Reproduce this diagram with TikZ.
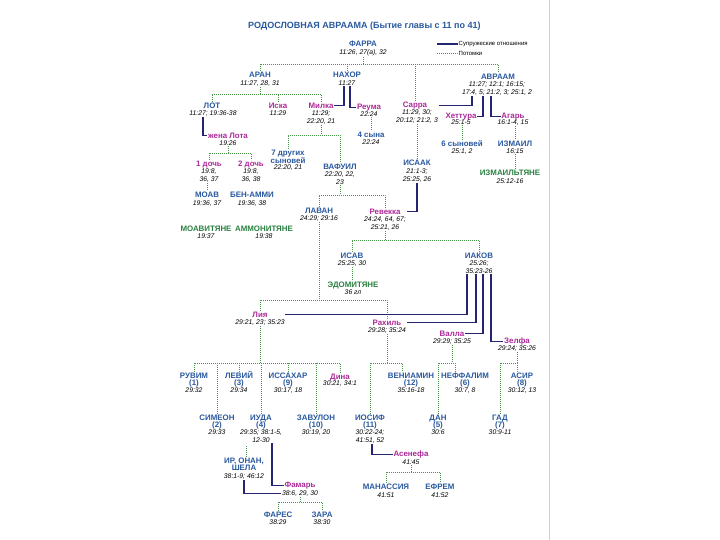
\documentclass[tikz,border=0pt]{standalone}
\usepackage{fontspec}
\setmainfont{Liberation Sans}
\usepackage{xcolor}
\usepackage{tikz}
\definecolor{nameblue}{RGB}{40,88,158}
\definecolor{wifepink}{RGB}{172,40,152}
\definecolor{folkgreen}{RGB}{40,128,64}
\definecolor{linegreen}{RGB}{70,150,70}
\definecolor{wednavy}{RGB}{36,36,112}
\tikzset{
  man/.style     = {font=\fontsize{7.9}{7.5}\selectfont\bfseries, text=nameblue, anchor=north, align=center, inner sep=0.6pt},
  wife/.style    = {man, text=wifepink},
  folk/.style    = {man, text=folkgreen},
  verse/.style   = {font=\fontsize{6.8}{8}\selectfont\itshape, anchor=north, align=center, inner sep=0.6pt},
  desc/.style    = {draw=linegreen, line width=0.8pt, dash pattern=on 0.8pt off 1.2pt},
  wed/.style     = {draw=wednavy, line width=1.2pt},
  heading/.style = {font=\fontsize{9}{10}\selectfont\bfseries, text=nameblue, anchor=west, inner sep=0pt},
  legend/.style  = {font=\fontsize{6}{6}\selectfont, anchor=west, inner sep=0.5pt},
}

\begin{document}
\begin{tikzpicture}[x=1pt,y=-1pt]
  \useasboundingbox (0,0) rectangle (720,540);
  \draw[black!18, line width=0.8pt] (549,0) -- (549,540);

  % title and legend
  \node[heading] (title) at (248,26) {РОДОСЛОВНАЯ АВРААМА (Бытие главы с 11 по 41)};
  \coordinate (lg1) at (437,44);
  \coordinate (lg2) at (437,53);
  \node[legend] (lgwed) at (458,44) {Супружеские отношения};
  \node[legend] (lgdesc) at (458,53) {Потомки};
  \draw[wed] (lg1) -- (lgwed.west);
  \draw[desc] (lg2) -- (lgdesc.west);

  % ---------- Terah and his children ----------
  \node[man] (terah) at (363,40) {ФАРРА};
  \node[verse] (terah-r) at (363,49) {11:26, 27(а), 32};
  \node[man] (aran) at (260,71) {АРАН};
  \node[verse] (aran-r) at (260,80) {11:27, 28, 31};
  \node[man] (nahor) at (347,71) {НАХОР};
  \node[verse] (nahor-r) at (347,80) {11:27};
  \node[man] (abram) at (498,73) {АВРААМ};
  \node[verse] (abram-r) at (497,81) {11:27; 12:1; 16:15;\\17:4, 5; 21:2, 3; 25:1, 2};

  \node[man] (lot) at (212,102) {ЛОТ};
  \node[verse] (lot-r) at (213,110) {11:27; 19:36-38};
  \node[wife] (iscah) at (278,102) {Иска};
  \node[verse] (iscah-r) at (278,110) {11:29};
  \node[wife] (milcah) at (321,102) {Милка};
  \node[verse] (milcah-r) at (321,110) {11:29;\\22:20, 21};
  \node[wife] (reumah) at (369,103) {Реума};
  \node[verse] (reumah-r) at (369,111) {22:24};
  \node[wife] (sarah) at (415,101) {Сарра};
  \node[verse] (sarah-r) at (417,109) {11:29, 30;\\20:12; 21:2, 3};
  \node[wife] (keturah) at (461,112) {Хеттура};
  \node[verse] (keturah-r) at (461,119) {25:1-5};
  \node[wife] (hagar) at (513,112) {Агарь};
  \node[verse] (hagar-r) at (513,119) {16:1-4, 15};

  % ---------- Lot ----------
  \node[wife] (lotwife) at (228,132) {жена Лота};
  \node[verse] (lotwife-r) at (228,140) {19:26};
  \node[wife] (d1) at (209,160) {1 дочь};
  \node[verse] (d1-r) at (209,168) {19:8,\\36, 37};
  \node[wife] (d2) at (251,160) {2 дочь};
  \node[verse] (d2-r) at (251,168) {19:8,\\36, 38};
  \node[man] (moab) at (207,191) {МОАВ};
  \node[verse] (moab-r) at (207,200) {19:36, 37};
  \node[man] (benammi) at (252,191) {БЕН-АММИ};
  \node[verse] (benammi-r) at (252,200) {19:36, 38};
  \node[folk] (moabites) at (206,225) {МОАВИТЯНЕ};
  \node[verse] (moabites-r) at (206,233) {19:37};
  \node[folk] (ammonites) at (264,225) {АММОНИТЯНЕ};
  \node[verse] (ammonites-r) at (264,233) {19:38};

  % ---------- Nahor ----------
  \node[man] (seven) at (288,149) {7 других\\сыновей};
  \node[verse] (seven-r) at (288,164) {22:20, 21};
  \node[man] (bethuel) at (340,163) {ВАФУИЛ};
  \node[verse] (bethuel-r) at (340,171) {22:20, 22,\\23};
  \node[man] (sons4) at (371,131) {4 сына};
  \node[verse] (sons4-r) at (371,139) {22:24};

  % ---------- Abraham ----------
  \node[man] (sons6) at (462,140) {6 сыновей};
  \node[verse] (sons6-r) at (462,148) {25:1, 2};
  \node[man] (ishmael) at (515,140) {ИЗМАИЛ};
  \node[verse] (ishmael-r) at (515,148) {16:15};
  \node[folk] (ishmaelites) at (510,169) {ИЗМАИЛЬТЯНЕ};
  \node[verse] (ishmaelites-r) at (510,178) {25:12-16};
  \node[man] (isaac) at (417,159) {ИСААК};
  \node[verse] (isaac-r) at (417,168) {21:1-3;\\25:25, 26};

  \node[man] (laban) at (319,207) {ЛАВАН};
  \node[verse] (laban-r) at (319,215) {24:29; 29:16};
  \node[wife] (rebekah) at (385,208) {Ревекка};
  \node[verse] (rebekah-r) at (385,216) {24:24, 64, 67;\\25:21, 26};
  \node[man] (esau) at (352,252) {ИСАВ};
  \node[verse] (esau-r) at (352,260) {25:25, 30};
  \node[folk] (edomites) at (353,281) {ЭДОМИТЯНЕ};
  \node[verse] (edomites-r) at (353,289) {36 гл};
  \node[man] (jacob) at (479,252) {ИАКОВ};
  \node[verse] (jacob-r) at (479,260) {25:26;\\35:23-26};

  % ---------- Jacob's wives and sons ----------
  \node[wife] (leah) at (260,311) {Лия};
  \node[verse] (leah-r) at (260,319) {29:21, 23; 35:23};
  \node[wife] (rachel) at (387,319) {Рахиль};
  \node[verse] (rachel-r) at (387,327) {29:28; 35:24};
  \node[wife] (bilhah) at (452,330) {Валла};
  \node[verse] (bilhah-r) at (452,338) {29:29; 35:25};
  \node[wife] (zilpah) at (517,337) {Зелфа};
  \node[verse] (zilpah-r) at (517,345) {29:24; 35:26};

  \foreach \id/\nm/\n/\rf/\x/\y in {%
    reuben/РУВИМ/1/29:32/194/372,
    levi/ЛЕВИЙ/3/29:34/239/372,
    issachar/ИССАХАР/9/{30:17, 18}/288/372,
    benjamin/ВЕНИАМИН/12/35:16-18/411/372,
    naphtali/НЕФФАЛИМ/6/{30:7, 8}/465/372,
    asher/АСИР/8/{30:12, 13}/522/372,
    simeon/СИМЕОН/2/29:33/217/414,
    judah/ИУДА/4/{29:35; 38:1-5,\\12-30}/261/414,
    zebulun/ЗАВУЛОН/10/{30:19, 20}/316/414,
    joseph/ИОСИФ/11/{30:22-24;\\41:51, 52}/370/414,
    dan/ДАН/5/30:6/438/414,
    gad/ГАД/7/30:9-11/500/414}
  {
    \node[man] (\id) at (\x,\y) {\smash{\nm}\vphantom{Н}\\(\n)};
    \node[verse] (\id-r) at (\x,\y+15) {\rf};
  }
  \node[wife] (dinah) at (340,373) {Дина};
  \node[verse] (dinah-r) at (340,380) {30:21, 34:1};

  % ---------- Judah and Joseph ----------
  \node[man] (er) at (244,457) {ИР, ОНАН,\\ШЕЛА};
  \node[verse] (er-r) at (244,473) {38:1-9; 46:12};
  \node[wife] (tamar) at (300,481) {Фамарь};
  \node[verse] (tamar-r) at (300,490) {38:6, 29, 30};
  \node[man] (perez) at (278,511) {ФАРЕС};
  \node[verse] (perez-r) at (278,519) {38:29};
  \node[man] (zerah) at (322,511) {ЗАРА};
  \node[verse] (zerah-r) at (322,519) {38:30};
  \node[wife] (asenath) at (411,450) {Асенефа};
  \node[verse] (asenath-r) at (411,459) {41:45};
  \node[man] (manasseh) at (386,483) {МАНАССИЯ};
  \node[verse] (manasseh-r) at (386,492) {41:51};
  \node[man] (ephraim) at (440,483) {ЕФРЕМ};
  \node[verse] (ephraim-r) at (440,492) {41:52};

  % ---------- descent (dotted) ----------
  \draw[desc] (terah-r.south) -- (terah-r.south |- 0,64);
  \draw[desc] (aran.north) |- (abram.north |- 0,64) -- (abram.north);
  \draw[desc] (nahor.north) -- (nahor.north |- 0,64);
  \draw[desc] (sarah.north) -- (sarah.north |- 0,64);

  \draw[desc] (aran-r.south) -- (aran-r.south |- 0,94);
  \draw[desc] (lot.north) |- (milcah.north |- 0,94) -- (milcah.north);
  \draw[desc] (iscah.north) -- (iscah.north |- 0,94);

  \draw[desc] (lotwife-r.south) -- (lotwife-r.south |- 0,153);
  \draw[desc] (d1.north) |- (d2.north |- 0,153) -- (d2.north);
  \draw[desc] (moab.north |- d1-r.south) -- (moab.north);

  \draw[desc] (milcah-r.south) -- (milcah-r.south |- 0,135);
  \draw[desc] (seven.north) |- (bethuel.north |- 0,135) -- (bethuel.north);
  \draw[desc] (sons4.north |- reumah-r.south) -- (sons4.north);

  \draw[desc] (sons6.north |- keturah-r.south) -- (sons6.north);
  \draw[desc] (ishmael.north |- hagar-r.south) -- (ishmael.north);
  \draw[desc] (ishmael-r.south) -- (ishmael-r.south |- ishmaelites.north);
  \draw[desc] (isaac.north |- sarah-r.south) -- (isaac.north);

  \draw[desc] (bethuel-r.south) -- (bethuel-r.south |- 0,195);
  \draw[desc] (laban.north) |- (rebekah.north |- 0,195) -- (rebekah.north);
  \draw[desc] (rebekah-r.south) -- (rebekah-r.south |- 0,240);
  \draw[desc] (esau.north) |- (jacob.north |- 0,240) -- (jacob.north);
  \draw[desc] (esau-r.south) -- (esau-r.south |- edomites.north);

  \draw[desc] (laban-r.south) -- (laban-r.south |- 0,300);
  \draw[desc] (leah.north) |- (rachel.north |- 0,300) -- (rachel.north);

  \coordinate (benjamin-in) at ([xshift=-9pt]benjamin.north);
  \coordinate (naphtali-in) at ([xshift=-10pt]naphtali.north);
  \coordinate (asher-in) at ([xshift=-5pt]asher.north);
  \draw[desc] (leah-r.south) -- (leah-r.south |- 0,363);
  \draw[desc] (reuben.north) |- (dinah.north |- 0,363) -- (dinah.north);
  \foreach \c in {simeon,levi,judah,issachar,zebulun}
    \draw[desc] (\c.north) -- (\c.north |- 0,363);
  \draw[desc] (rachel-r.south) -- (rachel-r.south |- 0,363);
  \draw[desc] (joseph.north) |- (benjamin-in |- 0,363) -- (benjamin-in);
  \draw[desc] (bilhah-r.south) -- (bilhah-r.south |- 0,363);
  \draw[desc] (dan.north) |- (naphtali-in |- 0,363) -- (naphtali-in);
  \draw[desc] (zilpah-r.south) -- (zilpah-r.south |- 0,363);
  \draw[desc] (gad.north) |- (asher-in |- 0,363) -- (asher-in);

  \coordinate (er-top) at (246,446);
  \draw[desc] (er-top) -- (er.north -| er-top);
  \draw[desc] (tamar-r.south) -- (tamar-r.south |- 0,502);
  \draw[desc] (perez.north) |- (zerah.north |- 0,502) -- (zerah.north);
  \draw[desc] (asenath-r.south) -- (asenath-r.south |- 0,472);
  \draw[desc] (manasseh.north) |- (ephraim.north |- 0,472) -- (ephraim.north);

  % ---------- marriages (solid) ----------
  \draw[wed] ([xshift=-3pt]nahor-r.south) |- (milcah.east);
  \draw[wed] ([xshift=3pt]nahor-r.south) |- (reumah.west);
  \draw[wed] ([xshift=-10pt]lot-r.south) |- (lotwife.west);
  \draw[wed] ([xshift=-25pt]abram-r.south) |- (sarah.east -| sarah-r.east);
  \draw[wed] ([xshift=-14pt]abram-r.south) |- (keturah.east);
  \draw[wed] ([xshift=-6pt]abram-r.south) |- (hagar.west);
  \draw[wed] (isaac-r.south) |- (rebekah.east -| rebekah-r.east);
  \draw[wed] ([xshift=-12pt]jacob-r.south) |- (leah.east -| leah-r.east);
  \draw[wed] ([xshift=-3pt]jacob-r.south) |- (rachel.east -| rachel-r.east);
  \draw[wed] ([xshift=4pt]jacob-r.south) |- (bilhah.east);
  \draw[wed] ([xshift=12pt]jacob-r.south) |- (zilpah.west);
  \draw[wed] ([xshift=2pt]joseph-r.south) |- (asenath.west);
  \draw[wed] ([xshift=11pt]judah-r.south) |- (tamar.west);
  \draw[wed] (er-r.south) |- (tamar-r.west);
\end{tikzpicture}
\end{document}
